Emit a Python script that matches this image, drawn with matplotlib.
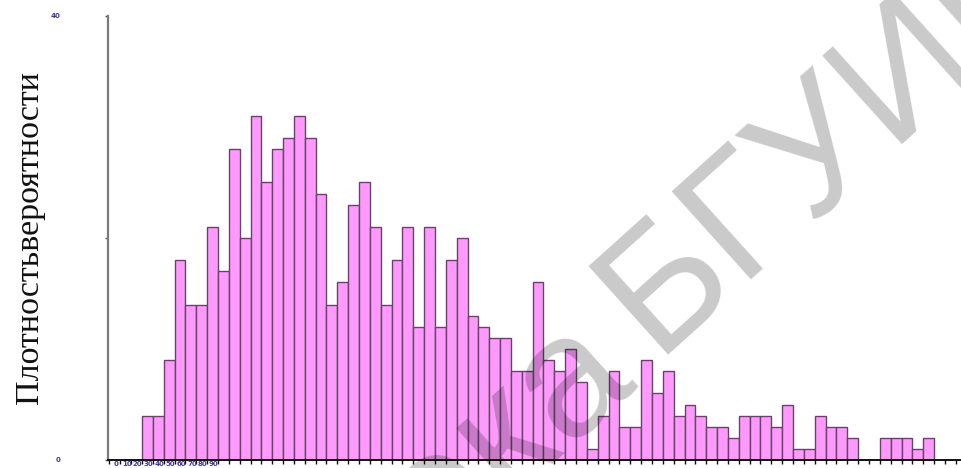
import numpy as np
import matplotlib
matplotlib.use("Agg")
import matplotlib.pyplot as plt

# Histogram bins: left edges (step 10) and counts per bin
bin_left = list(range(0, 760, 10))
counts = [0, 0, 0, 4, 4, 9, 18, 14, 14, 21, 17, 28, 20, 31, 25, 28, 29, 31,
          29, 24, 14, 16, 23, 25, 21, 14, 18, 21, 12, 21, 12, 18, 20, 13, 12,
          11, 11, 8, 8, 16, 9, 8, 10, 7, 1, 4, 8, 3, 3, 9, 6, 8, 4, 5, 4, 3,
          3, 2, 4, 4, 4, 3, 5, 1, 1, 4, 3, 3, 2, 0, 0, 2, 2, 2, 1, 2]
bin_width = 10
x_labels = ["0", "10", "20", "30", "40", "50", "60", "70", "80", "90"]
y_ticks = [0, 20, 40]
y_tick_labels = ["0", "", "40"]
y_title = "Плотностьвероятности"

W, H = 961, 468
fig = plt.figure(figsize=(W / 100, H / 100), dpi=100)
ax = fig.add_axes([107.5 / W, 8 / H, (W - 107.5) / W, 444 / H])

centers = np.array(bin_left) + bin_width / 2
ax.bar(centers, counts, width=bin_width, color="#FF99FF",
       edgecolor="#5e4a5e", linewidth=1.0, zorder=2)

ax.set_ylim(0, 40)
x0 = -1.8
ax.set_xlim(x0, x0 + (W - 107.5) / 1.085)

for s in ("top", "right"):
    ax.spines[s].set_visible(False)
ax.spines["left"].set_color("#7a7a7a")
ax.spines["left"].set_linewidth(1.6)
ax.spines["bottom"].set_color("#111111")
ax.spines["bottom"].set_linewidth(1.4)

# y axis: tick marks, labels far to the left
ax.set_yticks(y_ticks)
ax.set_yticklabels(y_tick_labels)
ax.tick_params(axis="y", direction="out", length=2.5, width=1, color="#555555",
               pad=31, labelsize=5, labelcolor="#3a3aa8")
for t in ax.get_yticklabels():
    t.set_fontweight("bold")

# x axis: ticks on every bin edge, labels centred in the first bins
ax.set_xticks(np.arange(0, 790, 10))
ax.set_xticklabels([])
ax.set_xticks(centers[:len(x_labels)] + 1, minor=True)
ax.set_xticklabels(x_labels, minor=True)
ax.tick_params(axis="x", which="major", direction="out", length=3, width=1,
               color="#111111")
ax.tick_params(axis="x", which="minor", length=0, pad=0.5, labelsize=5,
               labelcolor="#3a3aa8")
for t in ax.get_xticklabels(minor=True):
    t.set_fontweight("bold")

fig.text(30 / W, 1 - 237 / H, y_title, rotation=90, ha="center", va="center",
         fontsize=24.5, family="Liberation Serif", color="#111111")

# diagonal library watermark
ang = 42
wm = dict(rotation=ang, rotation_mode="anchor", va="baseline", fontsize=124,
          family="Liberation Sans", color="black", alpha=0.21, zorder=10)
fig.text(655 / W, 1 - 355 / H, "БГУИР", ha="left", **wm)
fig.text(636 / W, 1 - 376 / H, "Библиотека", ha="right", **wm)

fig.savefig("out.png", dpi=100)
